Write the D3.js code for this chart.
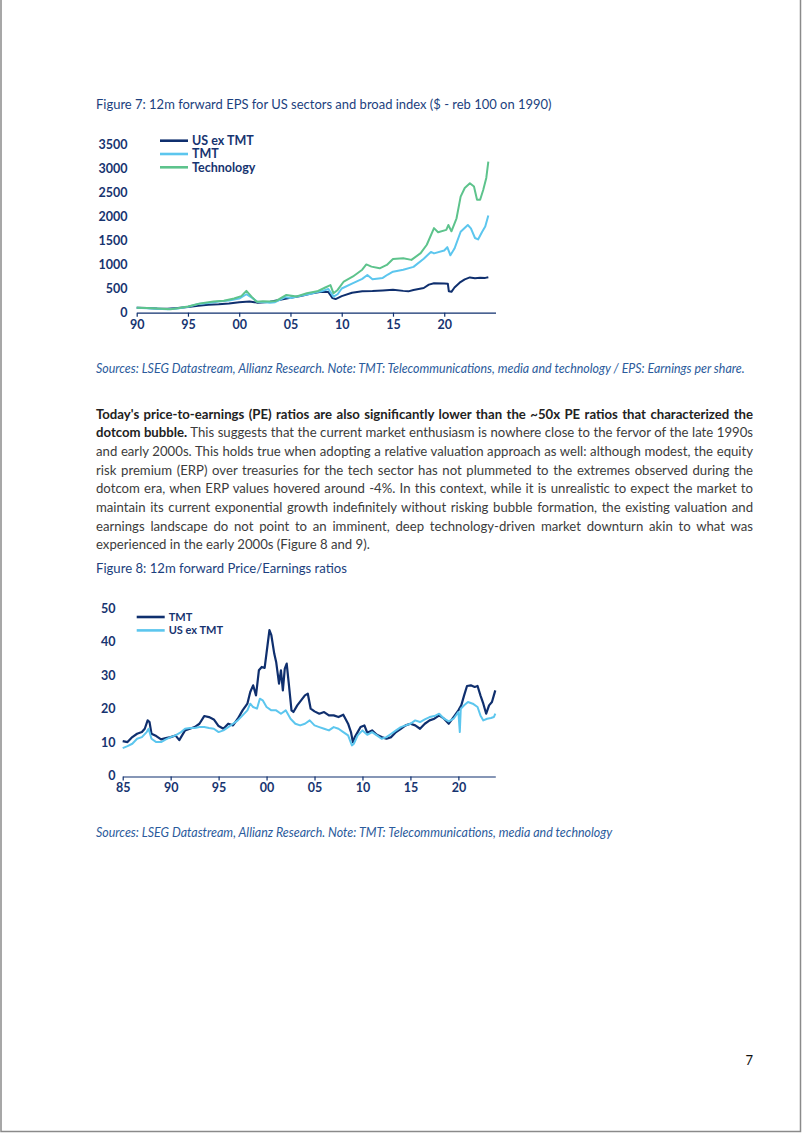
<!DOCTYPE html>
<html><head><meta charset="utf-8">
<script src="https://cdn.jsdelivr.net/npm/d3@7"></script>
<style>body{margin:0;background:#fff}svg{display:block}</style>
</head><body>
<script>
// ---------- DATA ----------
// Figure 7: 12m forward EPS (reb 100 on 1990)
const epsTicksY = [0,500,1000,1500,2000,2500,3000,3500];
const epsTicksX = [1990,1995,2000,2005,2010,2015,2020];
const epsUsExTMT = [[1990,100],[1991,95],[1992,85],[1993,80],[1994,95],[1995,115],[1996,140],[1997,160],[1998,170],[1999,185],[2000,215],[2001,230],[2001.8,205],[2002.5,215],[2003,225],[2004,265],[2005,305],[2006,345],[2007,395],[2008,430],[2008.7,425],[2009.1,300],[2009.4,280],[2010,340],[2011,410],[2012,440],[2013,445],[2014,460],[2015,475],[2016,450],[2016.5,440],[2017,470],[2018,510],[2018.5,580],[2019,610],[2020,605],[2020.35,600],[2020.45,440],[2020.7,430],[2021,520],[2021.5,620],[2022,690],[2022.5,730],[2023,715],[2023.5,725],[2024,720],[2024.3,735]];
const epsTMT = [[1990,100],[1991,90],[1992,80],[1993,70],[1994,85],[1995,120],[1996,175],[1997,200],[1998,230],[1999,250],[2000,290],[2000.7,380],[2001.3,300],[2001.8,220],[2002.5,215],[2003,205],[2003.5,215],[2004.5,320],[2005,300],[2006,350],[2007,390],[2007.5,420],[2008,440],[2008.7,490],[2009.2,330],[2009.6,380],[2010,500],[2011,600],[2012,700],[2012.5,780],[2013,690],[2014,720],[2014.5,790],[2015,850],[2016,890],[2017,950],[2018,1120],[2018.7,1260],[2019,1230],[2020,1290],[2020.3,1360],[2020.6,1190],[2021,1330],[2021.6,1680],[2022.3,1820],[2022.6,1750],[2023,1550],[2023.3,1520],[2023.7,1680],[2024,1790],[2024.3,2020]];
const epsTech = [[1990,100],[1991,95],[1992,85],[1993.3,70],[1994,90],[1995,125],[1996.2,190],[1997.5,230],[1998.5,245],[1999.5,290],[2000.2,340],[2000.7,450],[2001.2,330],[2001.7,225],[2002.3,235],[2003,230],[2003.6,240],[2004.6,365],[2005.6,335],[2006.6,400],[2007.6,440],[2008.4,520],[2008.9,570],[2009.2,400],[2009.6,470],[2010.2,645],[2011.1,750],[2012,890],[2012.4,1000],[2012.9,955],[2013.7,920],[2014.4,990],[2015,1115],[2016,1130],[2016.8,1095],[2017.7,1235],[2018.3,1410],[2019,1755],[2019.4,1670],[2020.2,1720],[2020.4,1820],[2020.7,1690],[2021.2,1960],[2021.6,2410],[2022,2590],[2022.5,2690],[2022.9,2620],[2023.2,2345],[2023.5,2345],[2023.8,2550],[2024.1,2800],[2024.3,3140]];
const epsLegend = ["US ex TMT","TMT","Technology"];

// Figure 8: 12m forward P/E ratios
const peTicksY = [0,10,20,30,40,50];
const peTicksX = [1985,1990,1995,2000,2005,2010,2015,2020];
const peTMT = [[1985,10.3],[1985.5,10],[1986,11.5],[1986.5,12.5],[1987,13],[1987.3,14],[1987.6,16.5],[1987.8,16],[1988,12.5],[1988.5,11.8],[1989,10.8],[1989.5,11.2],[1990,11.5],[1990.5,12],[1990.9,10.6],[1991.5,13.5],[1992,14],[1992.5,14.5],[1993,15.5],[1993.5,17.8],[1994,17.5],[1994.5,16.8],[1995,14.8],[1995.5,14],[1996,15.5],[1996.5,15],[1997,17],[1997.5,19.5],[1998,21.5],[1998.3,25],[1998.6,27],[1998.9,24],[1999.2,31.5],[1999.5,32.5],[1999.8,32.2],[2000.1,39],[2000.3,43.5],[2000.5,42],[2000.8,36.5],[2001,34],[2001.3,27.5],[2001.5,31.5],[2001.7,25.5],[2001.9,32],[2002.1,33.5],[2002.3,28],[2002.6,19.5],[2002.8,19],[2003.2,21],[2003.6,22.5],[2004,24],[2004.3,24.5],[2004.6,20],[2005,19.2],[2005.5,18.5],[2006,19],[2006.5,18],[2007,18],[2007.5,17.5],[2008,18.2],[2008.5,15.5],[2008.8,13],[2009,10],[2009.2,11.5],[2009.5,13],[2009.8,14.5],[2010.2,15],[2010.5,12.8],[2011,13.5],[2011.5,12.2],[2012,11.5],[2012.5,11],[2013,11.5],[2013.5,13],[2014,14],[2014.5,15],[2015,15.5],[2015.5,15],[2016,14],[2016.5,15.5],[2017,16.5],[2017.5,17],[2018,18],[2018.5,17],[2019,15.5],[2019.5,17.5],[2020,19.5],[2020.3,21],[2020.6,24],[2020.9,26.8],[2021.3,27],[2021.7,26.5],[2022,26.8],[2022.3,24],[2022.6,21.5],[2022.9,18.5],[2023.2,21],[2023.5,22],[2023.7,24],[2023.85,25.5]];
const peUsExTMT = [[1985,8.2],[1985.5,8.8],[1986,9.5],[1986.5,11],[1987,11.5],[1987.5,13],[1987.7,14],[1988,11],[1988.5,10],[1989,10],[1989.5,10.8],[1990,11.5],[1990.5,12],[1991,12.8],[1991.5,14],[1992,14.2],[1992.5,14.2],[1993,14.5],[1993.5,14.5],[1994,14.2],[1994.5,14],[1995,13],[1995.5,13.5],[1996,14.5],[1996.5,15.5],[1997,16.5],[1997.5,18],[1998,19.5],[1998.3,21.5],[1998.6,20.5],[1999,20],[1999.3,23],[1999.6,22.5],[2000,20.5],[2000.5,19.5],[2001,19.5],[2001.5,18.5],[2002,19.5],[2002.5,17],[2003,15.5],[2003.5,15],[2004,15.5],[2004.5,16.5],[2005,15],[2005.5,14.5],[2006,14],[2006.5,13.5],[2007,14.5],[2007.5,14],[2008,13],[2008.5,12],[2008.9,9],[2009.1,9.5],[2009.5,12],[2010,13.5],[2010.5,12.2],[2011,13],[2011.5,12],[2012,11],[2012.5,11.5],[2013,12.5],[2013.5,13.5],[2014,14.5],[2014.5,15],[2015,15.5],[2015.5,16.5],[2016,16],[2016.5,16.8],[2017,17.5],[2017.5,17.8],[2018,18.5],[2018.5,17],[2019,16.2],[2019.5,17],[2020,19],[2020.15,13],[2020.25,20],[2020.6,21],[2021,22],[2021.5,21.5],[2022,20.5],[2022.3,18],[2022.6,16.5],[2023,17],[2023.4,17.2],[2023.7,17.5],[2023.85,18.5]];
const peLegend = ["TMT","US ex TMT"];

// ---------- TEXT ----------
const fig7Title = "Figure 7: 12m forward EPS for US sectors and broad index ($ - reb 100 on 1990)";
const fig7Source = "Sources: LSEG Datastream, Allianz Research. Note: TMT: Telecommunications, media and technology / EPS: Earnings per share.";
const fig8Title = "Figure 8: 12m forward Price/Earnings ratios";
const fig8Source = "Sources: LSEG Datastream, Allianz Research. Note: TMT: Telecommunications, media and technology";
const paraLines = [
  [["Today's price-to-earnings (PE) ratios are also significantly lower than the ~50x PE ratios that characterized the", true]],
  [["dotcom bubble.", true], [" This suggests that the current market enthusiasm is nowhere close to the fervor of the late 1990s", false]],
  [["and early 2000s. This holds true when adopting a relative valuation approach as well: although modest, the equity", false]],
  [["risk premium (ERP) over treasuries for the tech sector has not plummeted to the extremes observed during the", false]],
  [["dotcom era, when ERP values hovered around -4%. In this context, while it is unrealistic to expect the market to", false]],
  [["maintain its current exponential growth indefinitely without risking bubble formation, the existing valuation and", false]],
  [["earnings landscape do not point to an imminent, deep technology-driven market downturn akin to what was", false]],
  [["experienced in the early 2000s (Figure 8 and 9).", false]]
];

// ---------- STYLE ----------
const NAVY = "#0f2f6e", LBLUE = "#5cc6ee", GREEN = "#5dc38c";
const TITLEC = "#1c3f7e", SRCC = "#2b5b9c", BODYC = "#3c3c3c", TICKC = "#173470";
const FONT = "Lato, 'Open Sans', sans-serif";

const svg = d3.select("body").append("svg").attr("width", 802).attr("height", 1133);
svg.append("rect").attr("width", 802).attr("height", 1133).attr("fill", "#fff");
// page border
svg.append("path").attr("d", "M1,0V1131.5H800.5V0").attr("fill", "none").attr("stroke", "#8a8a8a").attr("stroke-width", 1.5);

function fit(sel, target) {
  const w = sel.node().getComputedTextLength();
  const fs = parseFloat(sel.attr("font-size"));
  sel.attr("font-size", fs * target / w);
}

// titles & sources
const t7 = svg.append("text").attr("x", 96).attr("y", 108.5).attr("font-family", FONT).attr("font-size", 13).attr("fill", TITLEC).text(fig7Title);
fit(t7, 456);
const s7 = svg.append("text").attr("x", 96).attr("y", 373).attr("font-family", FONT).attr("font-style", "italic").attr("font-size", 11).attr("fill", SRCC).text(fig7Source);
fit(s7, 649);
const t8 = svg.append("text").attr("x", 96).attr("y", 572.5).attr("font-family", FONT).attr("font-size", 13).attr("fill", TITLEC).text(fig8Title);
fit(t8, 251);
const s8 = svg.append("text").attr("x", 96).attr("y", 837).attr("font-family", FONT).attr("font-style", "italic").attr("font-size", 11).attr("fill", SRCC).text(fig8Source);
fit(s8, 517);
svg.append("text").attr("x", 753).attr("y", 1065).attr("text-anchor", "end").attr("font-family", FONT).attr("font-size", 13).attr("fill", "#111").text("7");

// paragraph
const paraTop = 418.5, paraLH = 18.7, paraX = 96, paraW = 657;
const lineSel = paraLines.map((segs, i) => {
  const t = svg.append("text").attr("x", paraX).attr("y", paraTop + i * paraLH).attr("font-family", FONT).attr("font-size", 13).attr("fill", BODYC);
  segs.forEach(([s, b]) => t.append("tspan").attr("font-weight", b ? 700 : 400).attr("fill", b ? "#222" : BODYC).text(s));
  return t;
});
// size so that the widest justified line just fits
const maxW = d3.max(lineSel.slice(0, -1), t => t.node().getComputedTextLength());
const pfs = 13 * (paraW - 2) / maxW;
lineSel.forEach(t => t.attr("font-size", pfs));
lineSel.forEach((t, i) => {
  if (i === lineSel.length - 1) return;
  const w = t.node().getComputedTextLength();
  const txt = paraLines[i].map(d => d[0]).join("");
  const spaces = (txt.match(/ /g) || []).length;
  t.attr("word-spacing", (paraW - w) / spaces);
});

// ---------- CHART helper ----------
function drawChart(cfg) {
  const g = svg.append("g");
  const x = d3.scaleLinear().domain(cfg.xDomain).range(cfg.xRange);
  const y = d3.scaleLinear().domain(cfg.yDomain).range(cfg.yRange);
  // y labels
  const ya = g.append("g").attr("transform", `translate(${cfg.yLabelX},0)`)
    .call(d3.axisLeft(y).tickValues(cfg.yTicks).tickSize(0).tickPadding(0).tickFormat(d3.format("d")));
  ya.select(".domain").remove();
  ya.selectAll("text").attr("font-family", FONT).attr("font-size", 12.5).attr("font-weight", 700).attr("fill", TICKC);
  // x axis
  const xa = g.append("g").attr("transform", `translate(0,${cfg.axisY})`)
    .call(d3.axisBottom(x).tickValues(cfg.xTicks).tickSize(4).tickSizeOuter(0).tickPadding(3)
      .tickFormat(d => String(d % 100).padStart(2, "0")));
  xa.select(".domain").attr("stroke", NAVY).attr("stroke-width", 1.2);
  xa.selectAll(".tick line").attr("stroke", NAVY).attr("stroke-width", 1.2);
  xa.selectAll("text").attr("font-family", FONT).attr("font-size", 12.5).attr("font-weight", 700).attr("fill", TICKC);
  const line = d3.line().x(d => x(d[0])).y(d => y(d[1]));
  cfg.series.forEach(s => {
    g.append("path").datum(s.data).attr("d", line).attr("fill", "none")
      .attr("stroke", s.color).attr("stroke-width", s.width || 2).attr("stroke-linejoin", "round");
  });
  // legend
  cfg.legend.forEach((l, i) => {
    const ly = cfg.legendY + i * cfg.legendDY;
    g.append("line").attr("x1", cfg.legendX).attr("x2", cfg.legendX + cfg.legendLen).attr("y1", ly).attr("y2", ly)
      .attr("stroke", l.color).attr("stroke-width", 2.6);
    g.append("text").attr("x", cfg.legendX + cfg.legendLen + 4).attr("y", ly).attr("dy", "0.35em")
      .attr("font-family", FONT).attr("font-size", cfg.legendFS).attr("font-weight", 700).attr("fill", TICKC).text(l.name);
  });
}

drawChart({
  xDomain: [1990, 2025], xRange: [136.7, 495.5],
  yDomain: [0, 3500], yRange: [312.5, 144.3],
  yTicks: epsTicksY, xTicks: epsTicksX, yLabelX: 127.5, axisY: 312.7,
  series: [
    {data: epsUsExTMT, color: NAVY, width: 2},
    {data: epsTMT, color: LBLUE, width: 2},
    {data: epsTech, color: GREEN, width: 2}
  ],
  legend: [{name: epsLegend[0], color: NAVY}, {name: epsLegend[1], color: LBLUE}, {name: epsLegend[2], color: GREEN}],
  legendX: 160, legendLen: 28, legendY: 140.7, legendDY: 13.3, legendFS: 12.5
});

drawChart({
  xDomain: [1985, 2023.85], xRange: [122.7, 495.3],
  yDomain: [0, 50], yRange: [775.5, 608.5],
  yTicks: peTicksY, xTicks: peTicksX, yLabelX: 115.5, axisY: 776.5,
  series: [
    {data: peTMT, color: NAVY, width: 2.2},
    {data: peUsExTMT, color: LBLUE, width: 2}
  ],
  legend: [{name: peLegend[0], color: NAVY}, {name: peLegend[1], color: LBLUE}],
  legendX: 136.7, legendLen: 28, legendY: 617, legendDY: 13.4, legendFS: 11
});
</script>
</body></html>
